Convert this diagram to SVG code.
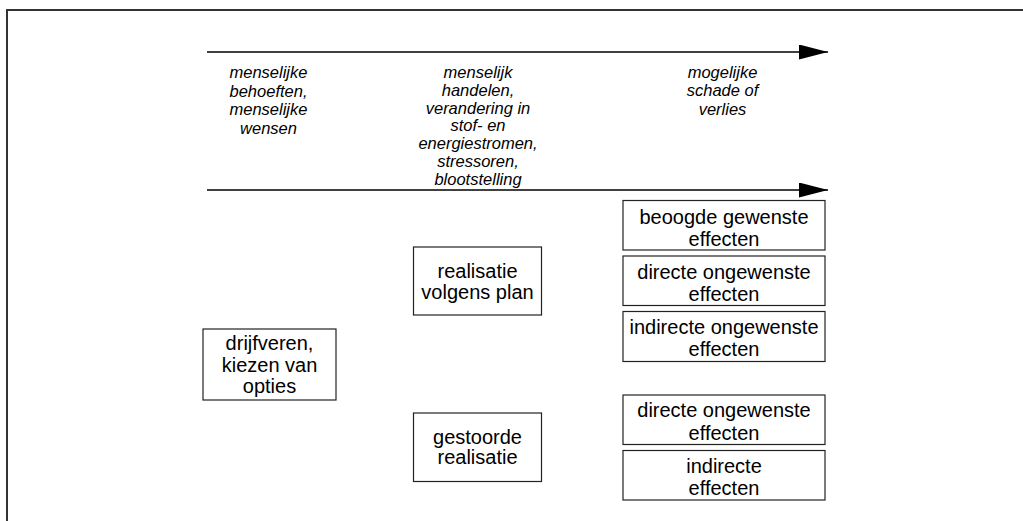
<svg xmlns="http://www.w3.org/2000/svg" width="1023" height="521" viewBox="0 0 1023 521">
  <style>
    .frame { fill: none; stroke: #333; stroke-width: 2; }
    .axis { stroke: #000; stroke-width: 1.5; fill: none; }
    .box { fill: #fff; stroke: #222; stroke-width: 1.2; }
    .lbl { font-family: "Liberation Sans", Arial, sans-serif; font-size: 20px; fill: #000; text-anchor: middle; }
    .hdr { font-family: "Liberation Sans", Arial, sans-serif; font-size: 16.5px; font-style: italic; fill: #000; text-anchor: middle; }
  </style>
  <defs>
    <marker id="head" markerUnits="userSpaceOnUse" markerWidth="30" markerHeight="16" refX="29" refY="7.5" orient="auto">
      <path d="M0,0 L29,7.5 L0,15 Z" fill="#000"/>
    </marker>
  </defs>

  <rect width="1023" height="521" fill="#fff"/>
  <!-- outer frame: only the left and top edges fall inside the page -->
  <path class="frame" d="M7,530 L7,10 L1030,10"/>

  <!-- time axes -->
  <g id="connectors">
    <line class="axis" x1="207" y1="52" x2="828" y2="52" marker-end="url(#head)"/>
    <line class="axis" x1="207" y1="190" x2="828" y2="190" marker-end="url(#head)"/>
  </g>

  <!-- column headings -->
  <g id="hdr-wensen">
    <text class="hdr" x="268.5" y="78">menselijke</text>
    <text class="hdr" x="268.5" y="96.5">behoeften,</text>
    <text class="hdr" x="268.5" y="115">menselijke</text>
    <text class="hdr" x="268.5" y="133.5">wensen</text>
  </g>
  <g id="hdr-handelen">
    <text class="hdr" x="478" y="78">menselijk</text>
    <text class="hdr" x="478" y="96">handelen,</text>
    <text class="hdr" x="478" y="114">verandering in</text>
    <text class="hdr" x="478" y="131">stof- en</text>
    <text class="hdr" x="478" y="149">energiestromen,</text>
    <text class="hdr" x="478" y="167">stressoren,</text>
    <text class="hdr" x="478" y="185">blootstelling</text>
  </g>
  <g id="hdr-schade">
    <text class="hdr" x="722.5" y="78">mogelijke</text>
    <text class="hdr" x="722.5" y="96">schade of</text>
    <text class="hdr" x="722.5" y="114.5">verlies</text>
  </g>

  <!-- nodes -->
  <g id="drijfveren">
    <rect class="box" x="203" y="329" width="133" height="71"/>
    <text class="lbl" x="269.5" y="350">drijfveren,</text>
    <text class="lbl" x="269.5" y="371.5">kiezen van</text>
    <text class="lbl" x="269.5" y="393">opties</text>
  </g>
  <g id="realisatie-plan">
    <rect class="box" x="413.5" y="247" width="128" height="68"/>
    <text class="lbl" x="477.5" y="277.5">realisatie</text>
    <text class="lbl" x="477.5" y="298.5">volgens plan</text>
  </g>
  <g id="gestoorde-realisatie">
    <rect class="box" x="413.5" y="413" width="128" height="68.5"/>
    <text class="lbl" x="477.5" y="443.5">gestoorde</text>
    <text class="lbl" x="477.5" y="464">realisatie</text>
  </g>
  <g id="gewenste-effecten">
    <rect class="box" x="623" y="200.5" width="202" height="49.5"/>
    <text class="lbl" x="724" y="223.5">beoogde gewenste</text>
    <text class="lbl" x="724" y="245.5">effecten</text>
  </g>
  <g id="directe-ongewenste-1">
    <rect class="box" x="623" y="256" width="202" height="49.5"/>
    <text class="lbl" x="724" y="278.5">directe ongewenste</text>
    <text class="lbl" x="724" y="301">effecten</text>
  </g>
  <g id="indirecte-ongewenste">
    <rect class="box" x="623" y="311.5" width="202" height="50"/>
    <text class="lbl" x="724" y="333.5">indirecte ongewenste</text>
    <text class="lbl" x="724" y="356">effecten</text>
  </g>
  <g id="directe-ongewenste-2">
    <rect class="box" x="623" y="395" width="202" height="49.5"/>
    <text class="lbl" x="724" y="417">directe ongewenste</text>
    <text class="lbl" x="724" y="439.5">effecten</text>
  </g>
  <g id="indirecte-effecten">
    <rect class="box" x="623" y="450.5" width="202" height="49.5"/>
    <text class="lbl" x="724" y="473">indirecte</text>
    <text class="lbl" x="724" y="495">effecten</text>
  </g>
</svg>
